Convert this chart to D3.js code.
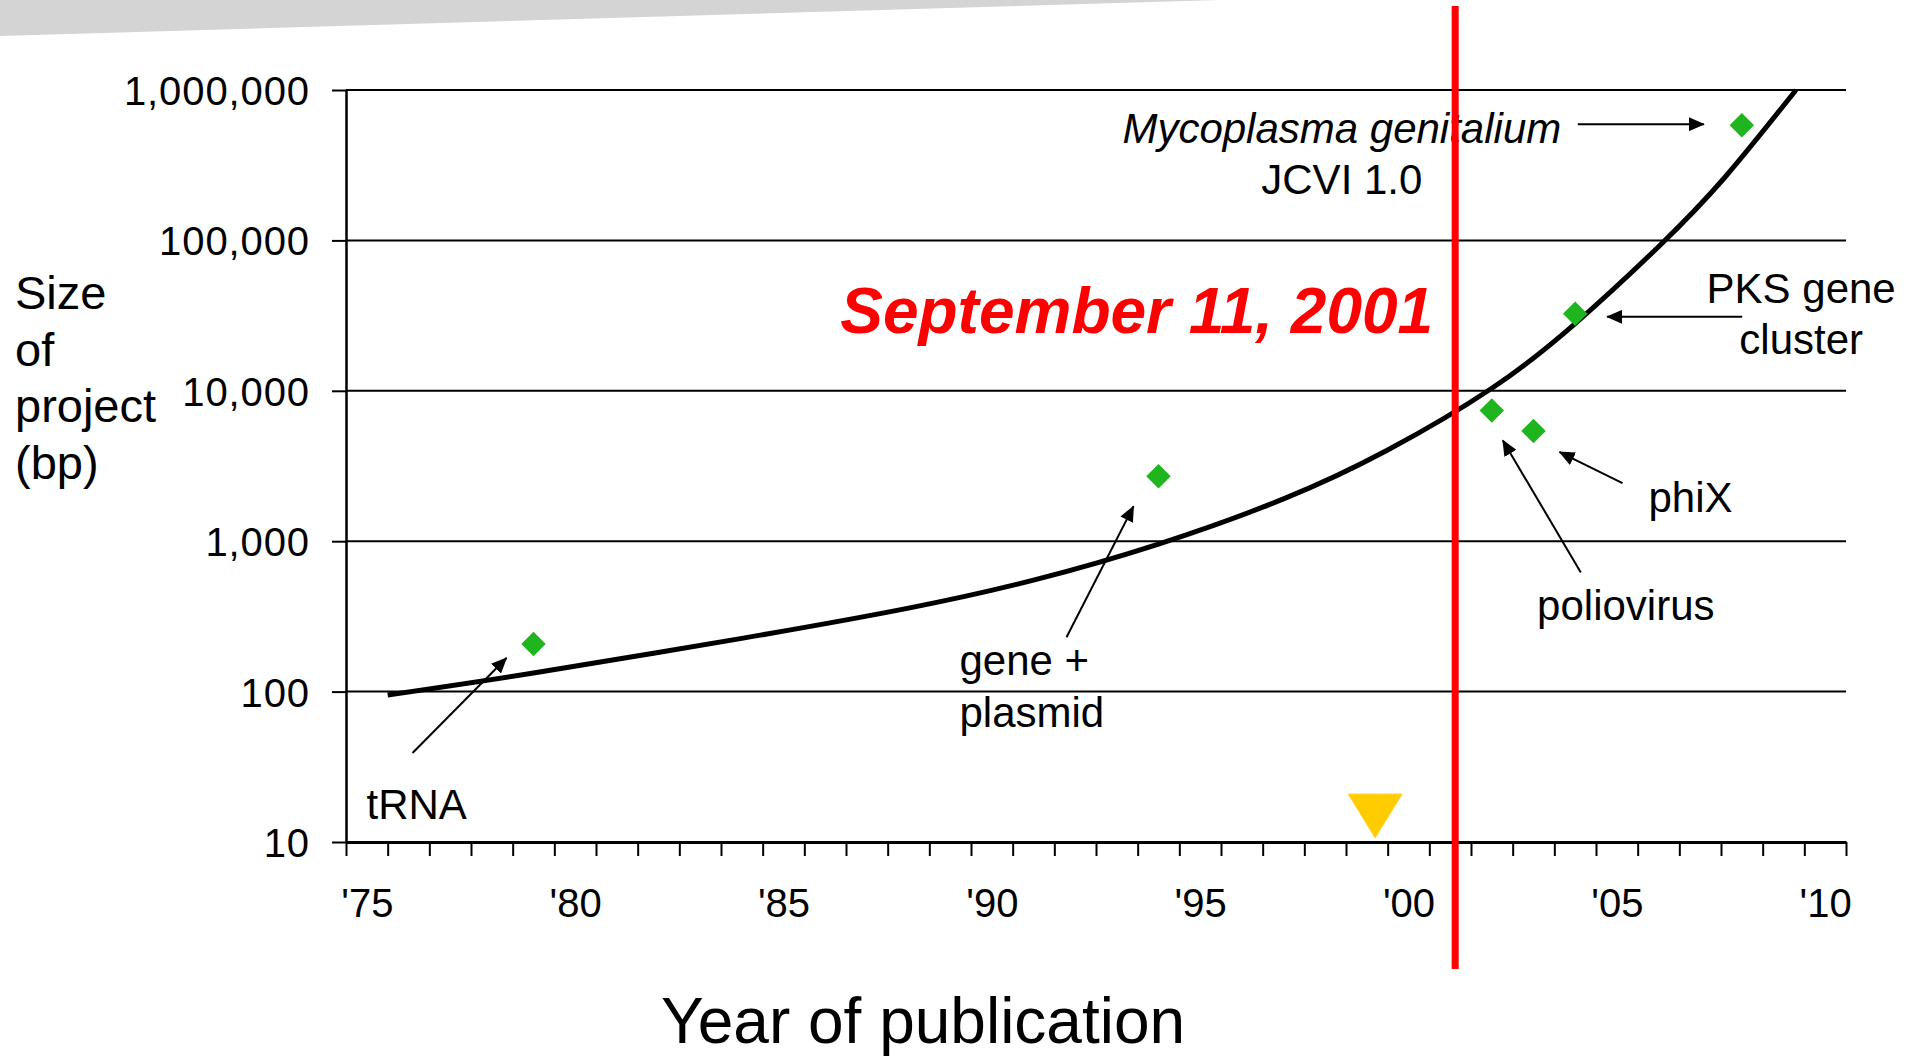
<!DOCTYPE html>
<html>
<head>
<meta charset="utf-8">
<script src="https://cdn.jsdelivr.net/npm/d3@7"></script>
<style>
  html, body { margin: 0; padding: 0; background: #ffffff; }
  svg { display: block; }
  text { font-family: "Liberation Sans", Arial, Helvetica, sans-serif; fill: #000; }
</style>
</head>
<body>
<svg id="chart" width="1914" height="1056"></svg>
<script>
// ---------------- DATA ----------------
const pointNames   = ["tRNA", "gene + plasmid", "poliovirus", "phiX", "PKS gene cluster", "Mycoplasma genitalium JCVI 1.0"];
const pointYears   = [1979, 1994, 2002, 2003, 2004, 2008];
const pointValues  = [207, 2700, 7400, 5400, 32500, 583000];

const trendYears   = [1975.5, 1979, 1984, 1988, 1991, 1994, 1997, 1999.5, 2002, 2004, 2006, 2007.6, 2009.3];
const trendValues  = [95, 133, 226, 359, 551, 957, 1910, 4040, 10400, 28000, 90800, 264000, 1000000];

const yTickValues  = [10, 100, 1000, 10000, 100000, 1000000];
const xLabelYears  = [1975, 1980, 1985, 1990, 1995, 2000, 2005, 2010];
const xTickLabels  = ["'75", "'80", "'85", "'90", "'95", "'00", "'05", "'10"];

const eventYear    = 2001.12;   // September 11, 2001
const eventLabel   = "September 11, 2001";
const markerYear   = 1999.2;    // yellow marker on the x axis

const xTitle = "Year of publication";
const yTitleLines = ["Size", "of", "project", "(bp)"];

// ---------------- LAYOUT ----------------
const svg = d3.select("#chart");
const x = d3.scaleLinear().domain([1974.5, 2010.5]).range([346, 1846]);
const y = d3.scaleLog().domain([10, 1000000]).range([842, 90]);

// grey band at the top
svg.append("path")
  .attr("d", "M0,0 L1219,0 L0,36 Z")
  .attr("fill", "#d4d4d4");

// arrow marker
const defs = svg.append("defs");
defs.append("marker")
  .attr("id", "arrow")
  .attr("markerUnits", "userSpaceOnUse")
  .attr("viewBox", "0 0 16 14")
  .attr("refX", 15).attr("refY", 7)
  .attr("markerWidth", 16).attr("markerHeight", 14)
  .attr("orient", "auto")
  .append("path").attr("d", "M0,0 L16,7 L0,14 Z").attr("fill", "#000");

// gridlines
svg.append("g").selectAll("line")
  .data(yTickValues.filter(v => v > 10))
  .join("line")
  .attr("x1", 346).attr("x2", 1846)
  .attr("y1", d => y(d)).attr("y2", d => y(d))
  .attr("stroke", "#000").attr("stroke-width", 2);

// y axis
const yAxis = svg.append("g").attr("transform", "translate(346,0)")
  .call(d3.axisLeft(y).tickValues(yTickValues).tickSize(14).tickSizeOuter(0).tickPadding(22).tickFormat(d3.format(",")));
yAxis.select(".domain").attr("stroke", "#000").attr("stroke-width", 2.5);
yAxis.selectAll(".tick line").attr("stroke", "#000").attr("stroke-width", 2);
yAxis.selectAll(".tick text")
  .attr("font-size", 40).attr("letter-spacing", 0.9)
  .attr("font-family", "Liberation Sans, Arial, sans-serif")
  .attr("fill", "#000").attr("dy", "0.36em");

// x axis ticks (every year boundary)
const xAxis = svg.append("g").attr("transform", "translate(0,842)")
  .call(d3.axisBottom(x).tickValues(d3.range(0, 37).map(i => 1974.5 + i)).tickSize(14).tickSizeOuter(0).tickFormat(""));
xAxis.select(".domain").attr("stroke", "#000").attr("stroke-width", 3);
xAxis.selectAll(".tick line").attr("stroke", "#000").attr("stroke-width", 2);

// x axis labels
const xLab = svg.append("g").attr("transform", "translate(0,842)")
  .call(d3.axisBottom(x).tickValues(xLabelYears).tickSize(0).tickPadding(0).tickFormat((d, i) => xTickLabels[i]));
xLab.select(".domain").remove();
xLab.selectAll(".tick text")
  .attr("font-size", 40).attr("font-family", "Liberation Sans, Arial, sans-serif")
  .attr("fill", "#000").attr("y", 75).attr("dy", 0);

// trend curve
const trend = trendYears.map((t, i) => [t, trendValues[i]]);
svg.append("path")
  .datum(trend)
  .attr("d", d3.line().x(d => x(d[0])).y(d => y(d[1])).curve(d3.curveNatural))
  .attr("fill", "none").attr("stroke", "#000").attr("stroke-width", 5).attr("stroke-linecap", "butt");

// data points (green diamonds)
const pts = pointYears.map((t, i) => ({ name: pointNames[i], year: t, value: pointValues[i] }));
svg.append("g").selectAll("path")
  .data(pts).join("path")
  .attr("transform", d => `translate(${x(d.year)},${y(d.value)}) rotate(45)`)
  .attr("d", d3.symbol().type(d3.symbolSquare).size(300))
  .attr("fill", "#1fb51f");

// annotations: offsets (px) relative to each point
const notes = [
  { lines: [["tRNA", false]], anchor: "start", dx: -167, dy: [175], from: [-121, 109], to: [-27, 14] },
  { lines: [["gene +", false], ["plasmid", false]], anchor: "start", dx: -199, dy: [199, 251], from: [-92, 161], to: [-25, 30] },
  { lines: [["poliovirus", false]], anchor: "middle", dx: 134, dy: [210], from: [89, 162], to: [11, 30] },
  { lines: [["phiX", false]], anchor: "middle", dx: 157, dy: [81], from: [89, 52], to: [26, 21] },
  { lines: [["PKS gene", false], ["cluster", false]], anchor: "middle", dx: 226, dy: [-11, 40], from: [167, 3], to: [32, 3] },
  { lines: [["Mycoplasma genitalium", true], ["JCVI 1.0", false]], anchor: "middle", dx: -400, dy: [18, 69], from: [-164, -1], to: [-38, -1] }
];
const ann = svg.append("g");
notes.forEach((n, i) => {
  const px = x(pts[i].year), py = y(pts[i].value);
  n.lines.forEach((l, j) => {
    ann.append("text")
      .attr("x", px + n.dx).attr("y", py + n.dy[j])
      .attr("text-anchor", n.anchor)
      .attr("font-size", 42)
      .attr("font-style", l[1] ? "italic" : "normal")
      .text(l[0]);
  });
  ann.append("line")
    .attr("x1", px + n.from[0]).attr("y1", py + n.from[1])
    .attr("x2", px + n.to[0]).attr("y2", py + n.to[1])
    .attr("stroke", "#000").attr("stroke-width", 2)
    .attr("marker-end", "url(#arrow)");
});

// yellow marker on the x axis
const mx = x(markerYear);
svg.append("path")
  .attr("d", `M${mx - 27},${y(10) - 48} L${mx + 27},${y(10) - 48} L${mx},${y(10) - 4} Z`)
  .attr("fill", "#ffcc00").attr("stroke", "#ffd633").attr("stroke-width", 1);

// red event line
const ex = x(eventYear);
svg.append("line")
  .attr("x1", ex).attr("x2", ex)
  .attr("y1", y(1000000) - 84).attr("y2", y(10) + 127)
  .attr("stroke", "#ff0000").attr("stroke-width", 7);

svg.append("text")
  .attr("x", ex - 22).attr("y", 333)
  .attr("text-anchor", "end")
  .attr("font-size", 64).attr("font-weight", "bold").attr("font-style", "italic")
  .style("fill", "#ff0000")
  .text(eventLabel);

// axis titles
svg.append("text")
  .attr("x", 923).attr("y", 1043)
  .attr("text-anchor", "middle")
  .attr("font-size", 64)
  .text(xTitle);

svg.append("g").selectAll("text")
  .data(yTitleLines).join("text")
  .attr("x", 15).attr("y", (d, i) => 309 + i * 56.5)
  .attr("font-size", 47)
  .text(d => d);
</script>
</body>
</html>
